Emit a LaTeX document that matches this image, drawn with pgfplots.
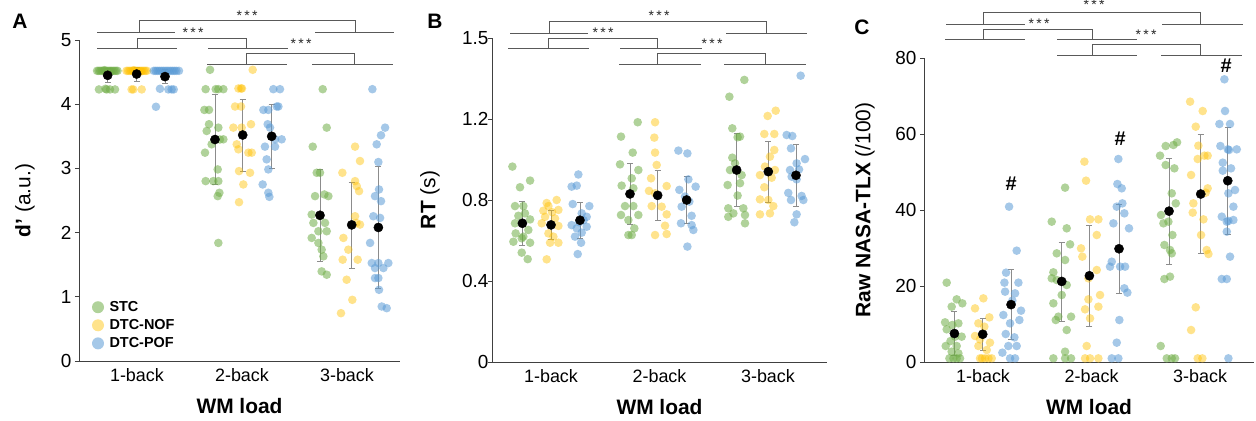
\documentclass[border=0pt]{standalone}
\usepackage{fontspec}
\setmainfont{Liberation Sans}
\usepackage{pgfplots}
\pgfplotsset{compat=1.18}
\definecolor{cg}{HTML}{70AD47}
\definecolor{cy}{HTML}{FFC000}
\definecolor{cb}{HTML}{5B9BD5}
\definecolor{axc}{HTML}{404040}
\definecolor{brc}{HTML}{595959}
\definecolor{erc}{HTML}{8C8C8C}
\newcommand{\fs}[1]{\fontsize{#1}{#1}\selectfont}
\pgfplotsset{
  panel/.style={
    scale only axis, anchor=south west,
    axis x line=bottom, axis y line=left,
    axis line style={-, draw=axc, line width=0.8bp},
    ymin=0,
    xtick={1,2,3}, xticklabels={1-back,2-back,3-back},
    x tick label style={font=\fs{18}},
    y tick label style={font=\fs{19}},
    xtick style={draw=none},
    ytick style={draw=axc, line width=0.8bp},
    tick align=outside, major tick length=4bp,
    xlabel={\textbf{WM load}},
    every axis x label/.style={at={(axis description cs:0.5,0)}, anchor=center, yshift=-45bp, font=\fs{21}},
    every axis y label/.style={at={(axis description cs:0,0.5)}, rotate=90, anchor=center, font=\fs{21}},
    clip=false,
  },
  pts/.style n args={2}{only marks, mark=*, mark size=4.3bp, color=#1,
    mark options={draw=#1, draw opacity=0, fill=#1, fill opacity=#2}},
  ptg/.style={pts={cg}{0.55}},
  pty/.style={pts={cy}{0.45}},
  ptb/.style={pts={cb}{0.55}},
  mn/.style={only marks, mark=*, mark size=4.6bp, color=black, mark options={draw=black, fill=black}, forget plot,
    error bars/.cd, y dir=both, y explicit,
    error bar style={draw=erc, line width=0.7bp},
    error mark options={rotate=90, mark size=3bp, draw=erc, line width=0.7bp}},
}
\begin{document}
\begin{tikzpicture}[x=1bp,y=1bp]
\useasboundingbox (0,0) rectangle (1256,420);

% ---------------- Panel A ----------------
\begin{axis}[panel, at={(79bp,59bp)}, width=321bp, height=321bp,
  xmin=0.448, xmax=3.505, ymax=5,
  ytick={0,1,2,3,4,5}, yticklabels={0,1,2,3,4,5},
  ylabel={\textbf{d'} (a.u.)}, ylabel style={yshift=54bp},
  legend style={draw=none, fill=none, at={(axis cs:0.57,0.97)}, anchor=north west,
    font=\bfseries\fs{14.5}, row sep=1.5bp, column sep=3bp, inner sep=0pt, nodes={inner sep=2.5bp}},
  legend image post style={mark size=6bp},
  legend cell align=left]
\addplot[ptg] coordinates {
(0.620,4.52) (0.635,4.52) (0.650,4.52) (0.665,4.52) (0.680,4.52) (0.695,4.52) (0.710,4.52) (0.725,4.52) (0.740,4.52) (0.755,4.52) (0.770,4.52) (0.785,4.52) (0.800,4.52) (0.815,4.52) (0.690,4.53) (0.750,4.51)
(0.638,4.23) (0.700,4.24) (0.711,4.23) (0.743,4.23) (0.791,4.23)
(1.696,4.536) (1.654,4.234) (1.750,4.234) (1.775,4.234) (1.823,4.234) (1.642,3.911) (1.686,3.911) (1.686,3.688) (1.775,3.635) (1.664,3.583) (1.823,3.453) (1.790,3.45) (1.711,3.375) (1.648,3.245) (1.769,2.984) (1.654,2.802) (1.727,2.802) (1.775,2.802) (1.785,2.620) (1.769,2.568) (1.775,1.839)
(2.769,4.234) (2.807,3.635) (2.674,3.339) (2.712,2.932) (2.743,2.932) (2.696,2.568) (2.785,2.594) (2.823,2.568) (2.664,2.281) (2.743,2.255) (2.680,2.151) (2.791,2.151) (2.728,2.021) (2.807,2.021) (2.664,1.917) (2.728,1.839) (2.759,1.734) (2.775,1.630) (2.759,1.396) (2.807,1.344)
};
\addlegendentry{STC}
\addplot[pty] coordinates {
(0.900,4.52) (0.915,4.52) (0.930,4.52) (0.945,4.52) (0.960,4.52) (0.975,4.52) (0.990,4.52) (1.005,4.52) (1.020,4.52) (1.035,4.52) (1.050,4.52) (1.065,4.52) (1.080,4.52) (1.095,4.52) (0.970,4.53) (1.040,4.51)
(0.949,4.23) (1.045,4.23) (0.965,4.23)
(2.102,4.536) (1.966,4.245) (1.991,4.245) (2.000,4.245) (1.934,3.964) (1.991,3.964) (2.086,3.688) (1.918,3.635) (1.997,3.635) (1.950,3.375) (1.966,3.297) (2.061,3.245) (2.093,3.245) (1.972,2.958) (2.077,2.932) (2.013,2.750) (1.972,2.474)
(3.077,3.339) (3.124,3.115) (2.956,2.932) (3.077,2.802) (3.093,2.724) (3.115,2.646) (3.077,2.255) (3.124,2.125) (3.090,2.150) (2.966,1.917) (3.013,1.734) (2.959,1.578) (3.102,1.578) (2.997,1.266) (3.051,0.953) (2.943,0.745)
};
\addlegendentry{DTC-NOF}
\addplot[ptb] coordinates {
(1.160,4.52) (1.178,4.52) (1.196,4.52) (1.214,4.52) (1.232,4.52) (1.250,4.52) (1.268,4.52) (1.286,4.52) (1.304,4.52) (1.322,4.52) (1.340,4.52) (1.358,4.52) (1.376,4.52) (1.400,4.52)
(1.219,4.24) (1.299,4.23) (1.330,4.23) (1.350,4.23) (1.181,3.96)
(2.362,4.234) (2.299,4.234) (2.331,3.964) (2.347,3.964) (2.204,3.911) (2.251,3.911) (2.245,3.688) (2.267,3.635) (2.378,3.453) (2.315,3.453) (2.219,3.339) (2.315,3.339) (2.235,3.141) (2.251,2.984) (2.197,2.750) (2.251,2.620) (2.261,2.557)
(3.242,4.234) (3.363,3.635) (3.324,3.516) (3.283,3.375) (3.299,3.099) (3.305,2.672) (3.267,2.568) (3.324,2.490) (3.251,2.255) (3.315,2.229) (3.220,1.839) (3.236,1.526) (3.299,1.526) (3.394,1.526) (3.267,1.448) (3.347,1.448) (3.299,1.292) (3.267,1.292) (3.305,1.109) (3.331,0.849) (3.378,0.823)
};
\addlegendentry{DTC-POF}
\addplot[mn] coordinates {(0.721,4.45) +- (0,0.11) (1.743,3.45) +- (0,0.70) (2.743,2.27) +- (0,0.72)};
\addplot[mn] coordinates {(0.997,4.47) +- (0,0.11) (2.007,3.52) +- (0,0.56) (3.045,2.12) +- (0,0.67)};
\addplot[mn] coordinates {(1.267,4.43) +- (0,0.11) (2.283,3.50) +- (0,0.50) (3.299,2.08) +- (0,0.95)};
\end{axis}

% ---------------- Panel B ----------------
\begin{axis}[panel, at={(492bp,58bp)}, width=335bp, height=324bp,
  xmin=0.456, xmax=3.544, ymax=1.6,
  ytick={0,0.4,0.8,1.2,1.6}, yticklabels={0,0.4,0.8,1.2,1.5},
  y tick label style={xshift=4bp},
  ylabel={\textbf{RT} (s)}, ylabel style={yshift=62bp}]
\addplot[ptg, forget plot] coordinates {
(0.644,0.965) (0.807,0.896) (0.714,0.863) (0.668,0.770) (0.745,0.770) (0.807,0.704) (0.699,0.722) (0.760,0.734) (0.668,0.685) (0.791,0.652) (0.674,0.635) (0.745,0.619) (0.653,0.594) (0.807,0.589) (0.730,0.611) (0.730,0.540) (0.785,0.508)
(1.799,1.184) (1.645,1.113) (1.753,1.034) (1.636,0.976) (1.805,0.948) (1.744,0.907) (1.651,0.871) (1.759,0.858) (1.682,0.770) (1.759,0.770) (1.645,0.726) (1.805,0.726) (1.713,0.701) (1.768,0.660) (1.713,0.627) (1.744,0.627)
(2.782,1.393) (2.644,1.310) (2.671,1.154) (2.742,1.113) (2.720,1.110) (2.671,1.009) (2.696,0.981) (2.757,0.923) (2.650,0.948) (2.628,0.874) (2.742,0.883) (2.720,0.822) (2.634,0.759) (2.773,0.759) (2.681,0.734) (2.788,0.726) (2.634,0.717) (2.788,0.685)
};
\addplot[pty, forget plot] coordinates {
(1.052,0.800) (0.976,0.770) (0.929,0.747) (1.068,0.751) (0.945,0.717) (1.037,0.709) (0.914,0.685) (1.068,0.672) (0.976,0.635) (1.022,0.619) (0.991,0.589) (1.068,0.589) (0.960,0.507) (0.960,0.785) (1.010,0.740)
(1.959,1.184) (1.952,1.108) (1.959,1.034) (1.974,0.973) (1.922,0.907) (2.066,0.869) (1.903,0.845) (1.959,0.833) (1.928,0.770) (2.020,0.767) (2.066,0.729) (2.051,0.673) (1.959,0.627) (2.066,0.632)
(3.071,1.241) (2.997,1.215) (2.966,1.126) (3.058,1.126) (3.058,1.047) (3.018,1.014) (2.972,0.965) (3.064,0.948) (2.926,0.923) (3.034,0.910) (2.966,0.863) (2.926,0.803) (3.003,0.800) (3.049,0.770) (3.018,0.734) (2.926,0.729)
};
\addplot[ptb, forget plot] coordinates {
(1.252,0.926) (1.190,0.866) (1.237,0.871) (1.200,0.780) (1.353,0.770) (1.283,0.734) (1.329,0.717) (1.190,0.676) (1.329,0.668) (1.237,0.660) (1.283,0.639) (1.221,0.619) (1.277,0.589) (1.246,0.533) (1.300,0.700) (1.260,0.690)
(2.174,1.044) (2.257,1.030) (2.266,0.902) (2.333,0.866) (2.183,0.850) (2.235,0.817) (2.275,0.792) (2.204,0.767) (2.296,0.722) (2.198,0.685) (2.296,0.676) (2.312,0.652) (2.257,0.570)
(3.301,1.414) (3.172,1.121) (3.224,1.116) (3.212,1.055) (3.341,1.002) (3.264,0.981) (3.203,0.948) (3.286,0.951) (3.218,0.915) (3.264,0.902) (3.187,0.835) (3.310,0.820) (3.212,0.800) (3.326,0.800) (3.264,0.729) (3.243,0.690)
};
\addplot[mn] coordinates {(0.736,0.685) +- (0,0.11) (1.728,0.830) +- (0,0.15) (2.711,0.948) +- (0,0.18)};
\addplot[mn] coordinates {(1.000,0.677) +- (0,0.07) (1.983,0.823) +- (0,0.125) (3.003,0.940) +- (0,0.15)};
\addplot[mn] coordinates {(1.267,0.700) +- (0,0.09) (2.250,0.800) +- (0,0.115) (3.258,0.922) +- (0,0.155)};
\end{axis}

% ---------------- Panel C ----------------
\begin{axis}[panel, at={(924bp,58bp)}, width=330bp, height=304bp,
  xmin=0.456, xmax=3.497, ymax=80,
  ytick={0,20,40,60,80}, yticklabels={0,20,40,60,80},
  ylabel={\textbf{Raw NASA-TLX} (/100)}, ylabel style={yshift=59bp}]
\addplot[ptg, forget plot] coordinates {
(0.665,20.88) (0.757,16.49) (0.809,15.44) (0.711,14.56) (0.650,10.44) (0.717,9.74) (0.773,10.18) (0.665,8.60) (0.803,6.67) (0.742,6.67) (0.656,4.21) (0.757,4.21) (0.711,2.72) (0.773,2.28) (0.727,0.96) (0.757,0.96) (0.788,0.96) (0.690,0.96) (0.700,5.50)
(1.756,45.88) (1.633,36.93) (1.771,35.18) (1.802,30.96) (1.679,28.60) (1.756,26.84) (1.648,23.60) (1.633,22.02) (1.679,21.58) (1.771,20.26) (1.725,17.63) (1.648,15.44) (1.811,11.93) (1.694,11.93) (1.670,11.05) (1.771,8.42) (1.756,2.72) (1.648,0.96) (1.756,0.96) (1.811,0.96)
(2.683,56.84) (2.754,57.11) (2.788,57.81) (2.631,54.30) (2.683,51.84) (2.763,50.96) (2.739,44.39) (2.776,41.75) (2.640,38.68) (2.708,36.93) (2.662,36.49) (2.745,33.42) (2.671,30.79) (2.723,29.47) (2.739,28.60) (2.671,21.84) (2.723,22.46) (2.637,4.21) (2.693,0.96) (2.739,0.96) (2.769,0.96)
};
\addplot[pty, forget plot] coordinates {
(1.003,16.75) (0.926,14.12) (1.058,11.75) (0.957,10.18) (1.012,9.30) (0.926,6.84) (0.972,5.96) (1.064,5.09) (0.957,4.21) (1.034,3.16) (0.972,0.96) (1.018,0.96) (1.080,0.96) (0.990,0.96) (1.050,0.96)
(1.934,52.72) (1.949,47.72) (2.063,37.54) (1.986,37.54) (2.048,33.42) (1.903,29.91) (1.915,27.72) (2.048,24.21) (1.971,22.02) (2.078,17.63) (1.971,16.49) (2.063,14.56) (1.940,13.86) (1.986,11.49) (1.955,4.21) (1.940,0.96) (1.986,0.96) (2.063,0.96)
(2.908,68.51) (3.024,66.05) (2.960,61.93) (2.984,56.93) (2.978,53.42) (3.040,54.30) (3.070,54.30) (2.917,49.21) (3.070,45.70) (3.052,44.56) (2.938,41.75) (2.932,39.30) (3.031,37.54) (3.009,33.42) (3.061,29.47) (3.077,28.42) (2.960,14.39) (2.917,8.42) (2.978,0.96) (3.021,0.96)
};
\addplot[ptb, forget plot] coordinates {
(1.240,40.88) (1.310,29.30) (1.212,23.51) (1.197,20.88) (1.326,20.88) (1.203,18.51) (1.295,18.07) (1.270,16.14) (1.350,13.51) (1.187,12.37) (1.335,11.05) (1.249,10.18) (1.209,7.37) (1.289,6.49) (1.233,4.21) (1.310,4.21) (1.178,2.46) (1.249,0.96) (1.295,0.96)
(2.247,53.42) (2.238,46.84) (2.278,45.70) (2.284,41.75) (2.232,40.88) (2.302,39.12) (2.201,36.49) (2.345,35.18) (2.186,26.40) (2.263,25.09) (2.309,25.09) (2.170,25.09) (2.302,19.39) (2.330,18.25) (2.256,11.05) (2.232,5.09) (2.186,0.96) (2.247,0.96)
(3.224,74.39) (3.230,66.05) (3.178,62.63) (3.276,62.63) (3.187,56.84) (3.255,55.96) (3.338,55.96) (3.267,55.79) (3.209,52.46) (3.285,50.96) (3.209,50.35) (3.322,45.26) (3.261,44.39) (3.307,40.88) (3.200,38.25) (3.246,36.93) (3.307,37.37) (3.261,37.11) (3.246,34.30) (3.276,27.72) (3.200,21.84) (3.246,21.84) (3.261,0.96)
};
\addplot[mn] coordinates {(0.736,7.5) +- (0,5.7) (1.725,21.2) +- (0,10.4) (2.714,39.7) +- (0,13.9)};
\addplot[mn] coordinates {(0.997,7.3) +- (0,4.2) (1.980,22.7) +- (0,13.3) (3.006,44.2) +- (0,15.6)};
\addplot[mn] coordinates {(1.258,15.1) +- (0,9.2) (2.253,29.8) +- (0,11.8) (3.255,47.7) +- (0,14.1)};
\node[font=\bfseries\fs{20}] at (axis cs:1.258,46.8) {\#};
\node[font=\bfseries\fs{20}] at (axis cs:2.263,58.7) {\#};
\node[font=\bfseries\fs{20}] at (axis cs:3.240,77.9) {\#};
\end{axis}

% ---------------- panel letters ----------------
\node[font=\bfseries\fs{21}] at (20,399) {A};
\node[font=\bfseries\fs{21}] at (435,399) {B};
\node[font=\bfseries\fs{21}] at (862,393) {C};

% ---------------- significance brackets ----------------
\begin{scope}[draw=brc, line width=0.8bp]
% A
\draw (139,387.3) -- (139,399.3) -- (355,399.3) -- (355,387.3);
\draw (97,387.3) -- (175,387.3); \draw (315,387.3) -- (394,387.3);
\draw (137,371.7) -- (137,381.7) -- (246,381.7) -- (246,371.7);
\draw (97,371.7) -- (177,371.7); \draw (208,371.7) -- (288,371.7);
\draw (246,356) -- (246,366.7) -- (354,366.7) -- (354,356);
\draw (207,356) -- (287,356); \draw (312,356) -- (393,356);
% B
\draw (549,387) -- (549,399) -- (766,399) -- (766,387);
\draw (510,387) -- (588,387); \draw (726,387) -- (807,387);
\draw (548,372) -- (548,382) -- (657,382) -- (657,372);
\draw (508,372) -- (589,372); \draw (620,372) -- (702,372);
\draw (657,356) -- (657,367) -- (765,367) -- (765,356);
\draw (619,356) -- (701,356); \draw (724,356) -- (806,356);
% C
\draw (983,396) -- (983,408) -- (1200,408) -- (1200,396);
\draw (946,396) -- (1025,396); \draw (1162,396) -- (1243,396);
\draw (983,381) -- (983,391) -- (1092,391) -- (1092,381);
\draw (945,381) -- (1025,381); \draw (1057,381) -- (1137,381);
\draw (1092,365) -- (1092,376) -- (1200,376) -- (1200,365);
\draw (1057,365) -- (1137,365); \draw (1161,365) -- (1242,365);
\end{scope}
\begin{scope}[every node/.style={font=\fs{14}, text=black!85, yshift=-3bp}]
\node at (247,407.7) {*\,*\,*};
\node at (193,390.7) {*\,*\,*};
\node at (301,379.3) {*\,*\,*};
\node at (659,407) {*\,*\,*};
\node at (603,390) {*\,*\,*};
\node at (712,379) {*\,*\,*};
\node at (1094,418) {*\,*\,*};
\node at (1039,399) {*\,*\,*};
\node at (1146,388) {*\,*\,*};
\end{scope}
\end{tikzpicture}
\end{document}
